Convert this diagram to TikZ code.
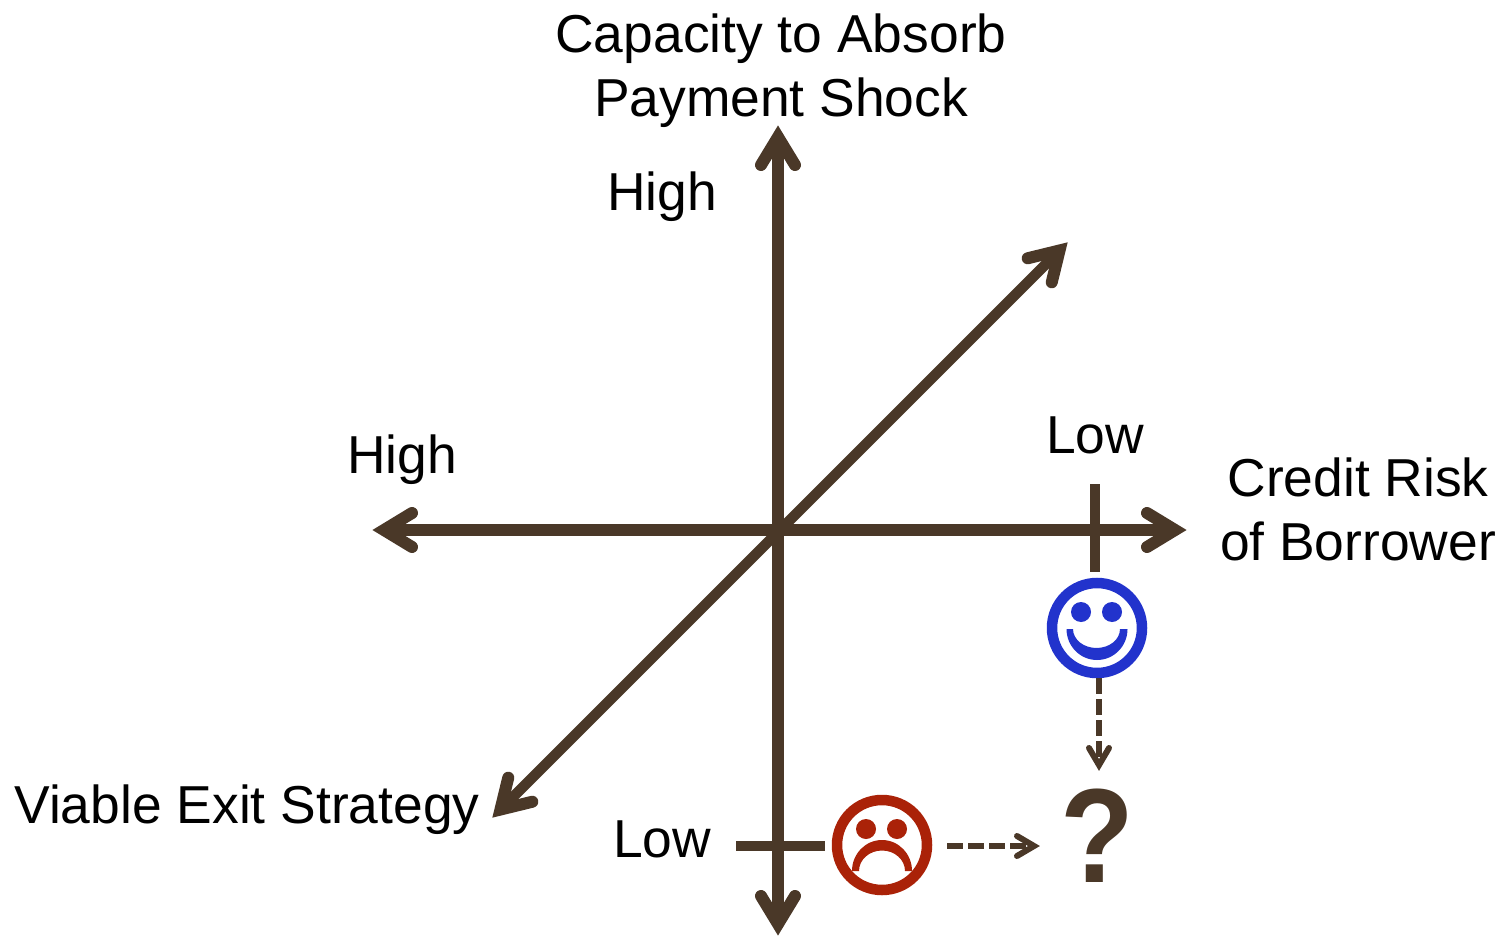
\documentclass[tikz,border=0pt]{standalone}
\usepackage{fontspec}
\setmainfont{Liberation Sans}
\usetikzlibrary{arrows.meta}
\definecolor{axisbrown}{HTML}{4A3828}
\definecolor{happyblue}{HTML}{2233CC}
\definecolor{sadred}{HTML}{AA2208}
\pgfdeclarearrow{
  name=Chev,
  parameters={\the\pgfarrowlength,\the\pgfarrowwidth,\the\pgfarrowlinewidth},
  setup code={
    \pgfarrowssettipend{0pt}
    \pgfarrowssetlineend{-\pgfarrowlinewidth}
    \pgfarrowssetvisualbackend{-\pgfarrowlinewidth}
    \pgfarrowssetbackend{-\pgfarrowlength}
    \pgfarrowssavethe\pgfarrowlength
    \pgfarrowssavethe\pgfarrowwidth
    \pgfarrowssavethe\pgfarrowlinewidth
  },
  drawing code={
    \pgfsetlinewidth{\pgfarrowlinewidth}
    \pgfsetdash{}{0pt}
    \pgfsetroundcap
    \pgfsetmiterjoin
    \pgfpathmoveto{\pgfpointadd{\pgfqpoint{-\pgfarrowlinewidth}{0pt}}{\pgfqpoint{-\pgfarrowlength}{.5\pgfarrowwidth}}}
    \pgfpathlineto{\pgfqpoint{-\pgfarrowlinewidth}{0pt}}
    \pgfpathlineto{\pgfpointadd{\pgfqpoint{-\pgfarrowlinewidth}{0pt}}{\pgfqpoint{-\pgfarrowlength}{-.5\pgfarrowwidth}}}
    \pgfusepathqstroke
  },
  defaults={length=29pt,width=34pt}
}
\tikzset{
  bighead/.tip={Chev[length=28pt,width=34pt,line width=12pt]},
  axis/.style={draw=axisbrown,line width=11.5pt,{bighead}-{bighead}},
  axisd/.style={draw=axisbrown,line width=10.5pt,{bighead}-{bighead}},
  tick/.style={draw=axisbrown,line width=10.5pt},
  dashedarrow/.style={draw=axisbrown,line width=6pt,dash pattern=on 16pt off 5pt,-{Chev[length=17pt,width=20pt,line width=6pt]}},
  lab/.style={font=\fontsize{53.4}{64}\selectfont,text=black,anchor=base,inner sep=0pt,align=center},
  facering/.style={draw,line width=10.5pt,fill=white,minimum size=90pt,inner sep=0pt,circle},
}
\begin{document}
\begin{tikzpicture}[x=1pt,y=-1pt]
\useasboundingbox (0,0) rectangle (1499,936);
\coordinate (top) at (778,125);
\coordinate (bot) at (778,936);
\coordinate (left) at (372,530);
\coordinate (right) at (1187,530);
\coordinate (ne) at (1068,242);
\coordinate (sw) at (492,818);
\coordinate (t1a) at (1095,484);
\coordinate (t1b) at (1095,572);
\coordinate (t2a) at (736,846);
\coordinate (t2b) at (825,846);
\draw[axisd] (sw) -- (ne);
\draw[axis] (bot) -- (top);
\draw[axis] (left) -- (right);
\draw[tick] (t1a) -- (t1b);
\draw[tick] (t2a) -- (t2b);
\node[lab] (ytitle1) at (781,53) {Capacity to Absorb};
\node[lab] (ytitle2) at (781,117) {Payment Shock};
\node[lab] (yhigh) at (662,211) {High};
\node[lab] (xhigh) at (402,473) {High};
\node[lab] (xlow) at (1095,453) {Low};
\node[lab] (xtitle1) at (1358,496) {Credit Risk};
\node[lab] (xtitle2) at (1358,560) {of Borrower};
\node[lab] (ztitle) at (247,823) {Viable Exit Strategy};
\node[lab] (ylow) at (662,857) {Low};
\node[facering,draw=happyblue] (happy) at (1097,628) {};
\fill[happyblue] (1081,612) circle (10);
\fill[happyblue] (1112,612) circle (10);
\fill[happyblue] (1066.5,629) arc[start angle=180,end angle=360,x radius=30.5,y radius=-31]
  -- (1120,629) arc[start angle=360,end angle=180,x radius=23.5,y radius=-19] -- cycle;
\node[facering,draw=sadred] (sad) at (882,845) {};
\fill[sadred] (866,829) circle (10);
\fill[sadred] (897,829) circle (10);
\fill[sadred] (852,871) arc[start angle=180,end angle=360,x radius=30,y radius=31]
  -- (905,871) arc[start angle=360,end angle=180,x radius=23,y radius=20.5] -- cycle;
\node[font=\fontsize{134}{134}\selectfont\bfseries,text=axisbrown,anchor=base,inner sep=0pt,xscale=0.9] (qm) at (1097,882) {?};
\coordinate (h1) at (1099,678);
\coordinate (q1) at (1099,771);
\coordinate (s1) at (947,846);
\coordinate (q2) at (1040,846);
\draw[dashedarrow] (h1) -- (q1);
\draw[dashedarrow] (s1) -- (q2);
\end{tikzpicture}
\end{document}
